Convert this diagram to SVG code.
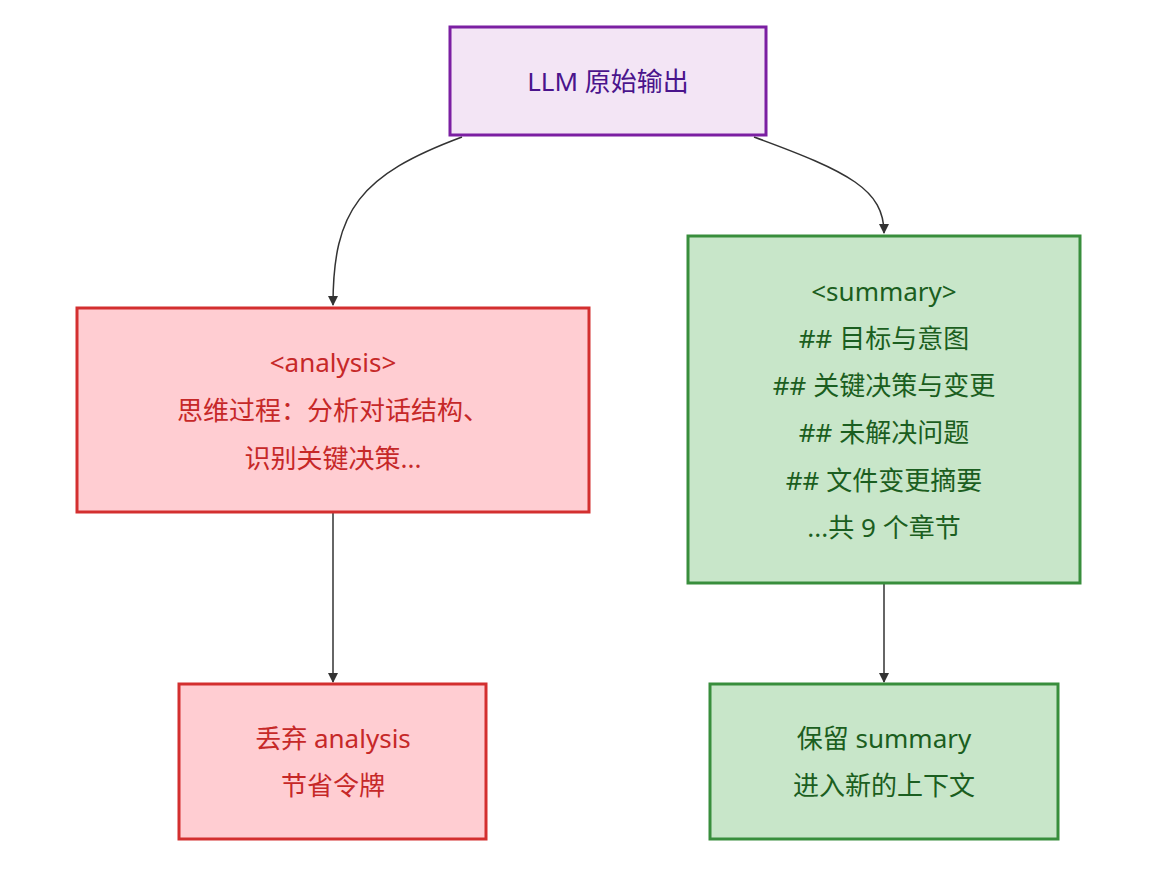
<svg xmlns="http://www.w3.org/2000/svg" width="1164" height="874" viewBox="0 0 1164 874">
<style>
text{font-family:"Noto Sans","Noto Sans CJK SC",sans-serif;font-size:26px;text-anchor:middle;dominant-baseline:central}
.p rect{fill:#f3e5f5;stroke:#7b1fa2;stroke-width:3}
.p text{fill:#4a148c}
.r rect{fill:#ffcdd2;stroke:#d32f2f;stroke-width:3}
.r text{fill:#c62828}
.g rect{fill:#c8e6c9;stroke:#388e3c;stroke-width:3}
.g text{fill:#1b5e20}
.e path{fill:none;stroke:#333;stroke-width:1.5;marker-end:url(#a)}
</style>
<defs><marker id="a" viewBox="0 0 10 10" refX="9" refY="5" markerWidth="10" markerHeight="10" markerUnits="userSpaceOnUse" orient="auto"><path d="M0,0L10,5L0,10z" fill="#333"/></marker></defs>
<rect width="1164" height="874" fill="#fff"/>
<g class="e" id="connectors">
<path d="M462,137 C360,175 333,210 333,305"/>
<path d="M754,137 C850,172 884,190 884,233"/>
<path d="M333,512 L333,682"/>
<path d="M884,583 L884,682"/>
</g>
<g id="llm" class="p"><rect x="450" y="27" width="316" height="108"/><text x="608" y="81">LLM 原始输出</text></g>
<g id="analysis" class="r"><rect x="77" y="308" width="512" height="204"/>
<text x="333" y="362">&lt;analysis&gt;</text><text x="333" y="410">思维过程：分析对话结构、</text><text x="333" y="458">识别关键决策...</text></g>
<g id="summary" class="g"><rect x="688" y="236" width="392" height="347"/>
<text x="884" y="291">&lt;summary&gt;</text><text x="884" y="338">## 目标与意图</text><text x="884" y="385">## 关键决策与变更</text><text x="884" y="432">## 未解决问题</text><text x="884" y="480">## 文件变更摘要</text><text x="884" y="527">...共 9 个章节</text></g>
<g id="discard" class="r"><rect x="179" y="684" width="307" height="155"/><text x="333" y="738">丢弃 analysis</text><text x="333" y="785">节省令牌</text></g>
<g id="keep" class="g"><rect x="710" y="684" width="348" height="155"/><text x="884" y="738">保留 summary</text><text x="884" y="785">进入新的上下文</text></g>
</svg>
